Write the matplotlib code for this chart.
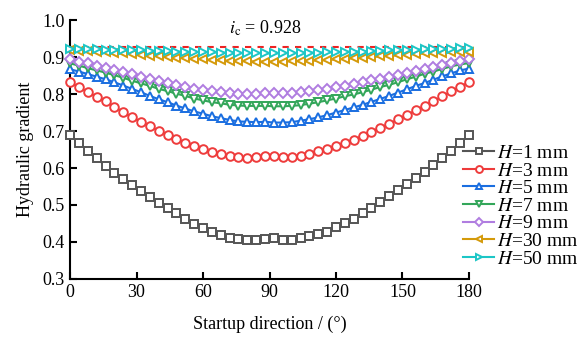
import numpy as np
import matplotlib
matplotlib.use("Agg")
import matplotlib.pyplot as plt

plt.rcParams['font.family'] = ['Liberation Serif', 'DejaVu Serif']
plt.rcParams['mathtext.fontset'] = 'stix'

# startup direction, degrees (0..180 step 4)
angle = list(range(0, 181, 4))

h1 = [0.689, 0.668, 0.647, 0.626, 0.606, 0.587, 0.570, 0.553, 0.537, 0.521, 0.506, 0.491,
      0.477, 0.461, 0.449, 0.438, 0.428, 0.418, 0.411, 0.407, 0.405, 0.406, 0.408,
      0.410, 0.405, 0.405, 0.410, 0.415, 0.421, 0.427, 0.440, 0.450, 0.463, 0.477, 0.491,
      0.508, 0.523, 0.540, 0.556, 0.572, 0.589, 0.609, 0.627, 0.646, 0.668, 0.689]
h3 = [0.832, 0.818, 0.805, 0.793, 0.780, 0.765, 0.751, 0.737, 0.725, 0.713, 0.701, 0.690,
      0.679, 0.668, 0.659, 0.651, 0.642, 0.637, 0.632, 0.629, 0.628, 0.630, 0.632,
      0.632, 0.631, 0.630, 0.632, 0.638, 0.645, 0.651, 0.659, 0.668, 0.677, 0.687, 0.698,
      0.709, 0.719, 0.732, 0.743, 0.756, 0.768, 0.781, 0.794, 0.807, 0.820, 0.832]
h5 = [0.867, 0.861, 0.854, 0.847, 0.840, 0.832, 0.823, 0.814, 0.805, 0.795, 0.786, 0.778,
      0.769, 0.761, 0.753, 0.747, 0.740, 0.735, 0.730, 0.726, 0.725, 0.724, 0.725,
      0.723, 0.723, 0.724, 0.728, 0.732, 0.737, 0.743, 0.750, 0.757, 0.764, 0.771, 0.779,
      0.787, 0.795, 0.804, 0.813, 0.822, 0.830, 0.839, 0.848, 0.856, 0.864, 0.869]
h7 = [0.883, 0.877, 0.870, 0.864, 0.858, 0.851, 0.844, 0.836, 0.829, 0.822, 0.814, 0.808,
      0.801, 0.795, 0.788, 0.783, 0.778, 0.775, 0.771, 0.769, 0.768, 0.768, 0.768,
      0.767, 0.767, 0.768, 0.770, 0.774, 0.778, 0.783, 0.788, 0.794, 0.799, 0.805, 0.812,
      0.819, 0.825, 0.832, 0.840, 0.847, 0.855, 0.861, 0.868, 0.875, 0.880, 0.884]
h9 = [0.894, 0.888, 0.883, 0.877, 0.871, 0.866, 0.859, 0.853, 0.847, 0.841, 0.835, 0.830,
      0.824, 0.819, 0.814, 0.811, 0.807, 0.805, 0.803, 0.801, 0.801, 0.801, 0.802,
      0.802, 0.802, 0.803, 0.805, 0.807, 0.811, 0.814, 0.818, 0.823, 0.827, 0.832, 0.837,
      0.841, 0.847, 0.852, 0.858, 0.863, 0.868, 0.874, 0.879, 0.885, 0.890, 0.895]
h30 = [0.918, 0.917, 0.916, 0.915, 0.913, 0.912, 0.910, 0.908, 0.906, 0.904, 0.902, 0.900,
       0.898, 0.897, 0.895, 0.894, 0.892, 0.891, 0.890, 0.889, 0.889, 0.888, 0.888,
       0.888, 0.888, 0.889, 0.889, 0.890, 0.891, 0.892, 0.894, 0.895, 0.897, 0.898, 0.900,
       0.902, 0.903, 0.905, 0.907, 0.908, 0.910, 0.911, 0.912, 0.913, 0.914, 0.915]
h50 = [0.922, 0.922, 0.921, 0.921, 0.920, 0.920, 0.919, 0.918, 0.918, 0.917, 0.916, 0.916,
       0.915, 0.914, 0.914, 0.913, 0.913, 0.912, 0.912, 0.911, 0.911, 0.911, 0.910,
       0.910, 0.911, 0.911, 0.911, 0.912, 0.912, 0.913, 0.913, 0.914, 0.915, 0.915, 0.916,
       0.917, 0.918, 0.919, 0.919, 0.920, 0.921, 0.922, 0.923, 0.923, 0.924, 0.925]

ic = 0.928
labels = ['$H$=1 mm', '$H$=3 mm', '$H$=5 mm', '$H$=7 mm', '$H$=9 mm', '$H$=30 mm', '$H$=50 mm']
series = [h1, h3, h5, h7, h9, h30, h50]
colors = ['#555555', '#ee3b3b', '#1a6ee0', '#33a65a', '#b07de0', '#d49a0a', '#1cc6c6']
markers = ['s', 'o', '^', 'v', 'D', '<', '>']
msizes = [5.3, 6.2, 6.2, 6.2, 5.3, 6.2, 6.2]

fig = plt.figure(figsize=(5.84, 3.41), dpi=100)
ax = fig.add_axes([0.12, 0.182, 0.683, 0.759])

ax.plot([0, 180], [ic, ic], color='#ee2222', ls=(0, (3, 3)), lw=1.5, zorder=1)

for y, c, m, ms, lab in zip(series, colors, markers, msizes, labels):
    ax.plot(angle, y, color=c, marker=m, ms=ms, mfc='white', mec=c, mew=1.4,
            lw=1.5, label=lab, clip_on=False, zorder=3)

ax.text(88, 0.978, '$i_{\\mathrm{c}}$ = 0.928', ha='center', va='center', fontsize=13)

ax.set_xlim(0, 180)
ax.set_ylim(0.3, 1.0)
ax.set_xticks(range(0, 181, 30))
ax.set_yticks(np.arange(0.3, 1.01, 0.1))
ax.set_yticklabels(['0.3', '0.4', '0.5', '0.6', '0.7', '0.8', '0.9', '1.0'])
ax.spines['top'].set_visible(False)
ax.spines['right'].set_visible(False)
ax.spines['left'].set_linewidth(1.5)
ax.spines['bottom'].set_linewidth(1.5)
ax.tick_params(direction='in', length=5, width=1.5, labelsize=13, pad=4)
ax.set_xlabel('Startup direction / (°)', fontsize=13, labelpad=10)
ax.set_ylabel('Hydraulic gradient', fontsize=13, labelpad=6)

ax.legend(loc='upper left', bbox_to_anchor=(0.985, 0.52), frameon=False, fontsize=14,
          handlelength=1.6, handletextpad=0.15, labelspacing=0.0, borderaxespad=0,
          borderpad=0, markerscale=0.8)

fig.savefig('out.png', dpi=100)
